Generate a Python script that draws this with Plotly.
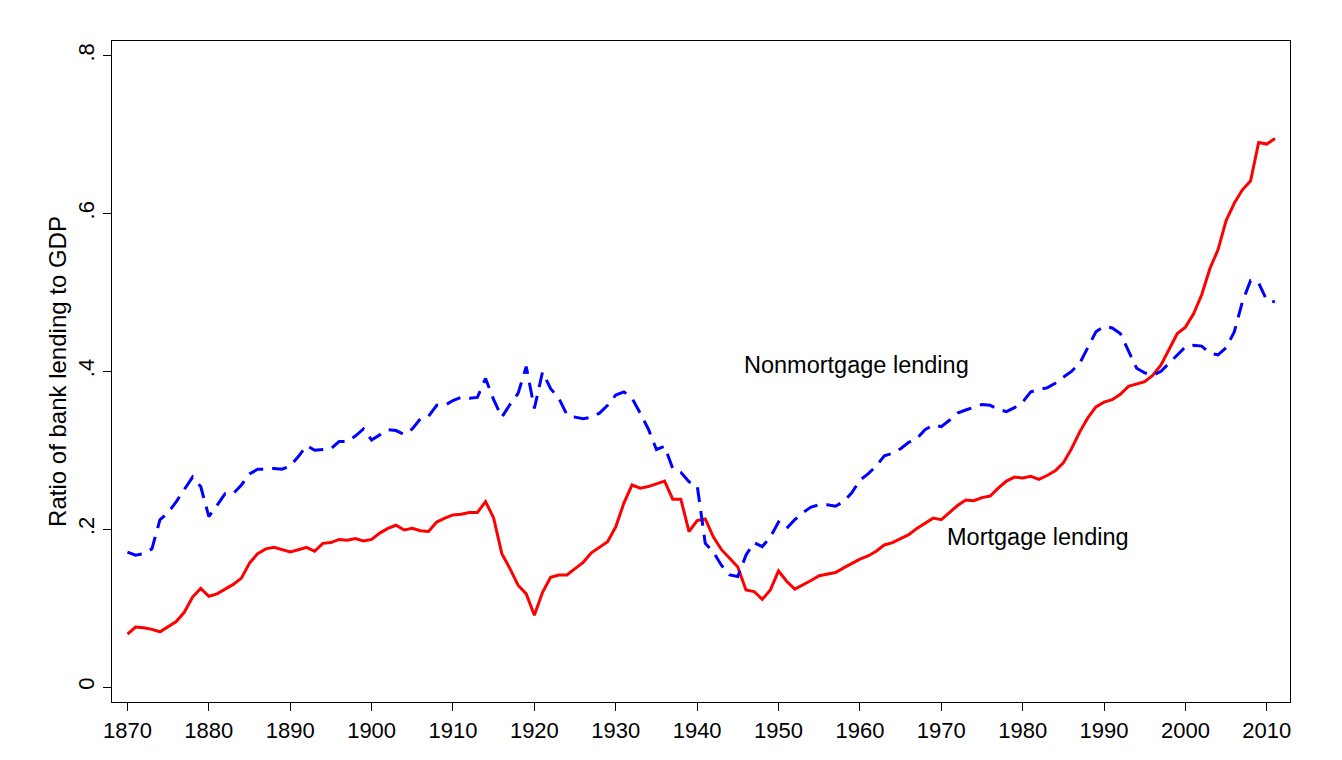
import plotly.graph_objects as go

years = list(range(1870, 2012))

mortgage = [
    0.067, 0.076, 0.075, 0.073, 0.070, 0.076, 0.083, 0.095, 0.114, 0.125,  # 1870s
    0.115, 0.118, 0.124, 0.130, 0.138, 0.157, 0.169, 0.175, 0.177, 0.174,  # 1880s
    0.171, 0.174, 0.177, 0.172, 0.182, 0.183, 0.187, 0.186, 0.188, 0.185,  # 1890s
    0.187, 0.195, 0.201, 0.205, 0.199, 0.201, 0.198, 0.197, 0.209, 0.214,  # 1900s
    0.218, 0.219, 0.221, 0.221, 0.235, 0.214, 0.169, 0.150, 0.129, 0.118,  # 1910s
    0.091, 0.120, 0.139, 0.142, 0.142, 0.150, 0.158, 0.170, 0.177, 0.184,  # 1920s
    0.203, 0.233, 0.256, 0.252, 0.254, 0.257, 0.261, 0.238, 0.238, 0.197,  # 1930s
    0.211, 0.213, 0.190, 0.174, 0.163, 0.152, 0.123, 0.121, 0.111, 0.123,  # 1940s
    0.147, 0.134, 0.124, 0.129, 0.135, 0.141, 0.143, 0.145, 0.151, 0.157,  # 1950s
    0.162, 0.166, 0.172, 0.180, 0.183, 0.188, 0.193, 0.201, 0.208, 0.214,  # 1960s
    0.212, 0.221, 0.230, 0.237, 0.236, 0.240, 0.242, 0.252, 0.261, 0.266,  # 1970s
    0.265, 0.267, 0.263, 0.268, 0.274, 0.284, 0.302, 0.323, 0.341, 0.355,  # 1980s
    0.361, 0.364, 0.371, 0.381, 0.384, 0.387, 0.395, 0.408, 0.428, 0.448,  # 1990s
    0.456, 0.473, 0.497, 0.530, 0.554, 0.591, 0.613, 0.630, 0.641, 0.690,  # 2000s
    0.688, 0.695,                                                          # 2010s
]

nonmortgage = [
    0.171, 0.167, 0.169, 0.175, 0.212, 0.221, 0.235, 0.250, 0.266, 0.254,  # 1870s
    0.216, 0.230, 0.245, 0.245, 0.256, 0.270, 0.276, 0.276, 0.277, 0.276,  # 1880s
    0.280, 0.292, 0.306, 0.300, 0.301, 0.302, 0.311, 0.311, 0.318, 0.327,  # 1890s
    0.313, 0.320, 0.326, 0.325, 0.320, 0.327, 0.340, 0.343, 0.357, 0.357,  # 1900s
    0.363, 0.367, 0.366, 0.367, 0.391, 0.364, 0.342, 0.358, 0.372, 0.406,  # 1910s
    0.353, 0.399, 0.378, 0.366, 0.345, 0.342, 0.340, 0.342, 0.347, 0.357,  # 1920s
    0.370, 0.374, 0.366, 0.347, 0.327, 0.301, 0.305, 0.277, 0.272, 0.260,  # 1930s
    0.256, 0.182, 0.171, 0.154, 0.142, 0.140, 0.167, 0.183, 0.178, 0.190,  # 1940s
    0.209, 0.201, 0.212, 0.221, 0.228, 0.231, 0.231, 0.229, 0.235, 0.246,  # 1950s
    0.262, 0.270, 0.280, 0.293, 0.296, 0.302, 0.310, 0.315, 0.326, 0.332,  # 1960s
    0.330, 0.338, 0.347, 0.351, 0.355, 0.358, 0.357, 0.352, 0.349, 0.354,  # 1970s
    0.361, 0.374, 0.377, 0.379, 0.385, 0.393, 0.400, 0.410, 0.430, 0.450,  # 1980s
    0.457, 0.455, 0.448, 0.427, 0.404, 0.398, 0.395, 0.400, 0.410, 0.421,  # 1990s
    0.431, 0.433, 0.432, 0.423, 0.421, 0.430, 0.450, 0.488, 0.515, 0.512,  # 2000s
    0.490, 0.488,                                                          # 2010s
]

x_ticks = list(range(1870, 2011, 10))
y_ticks = [0, 0.2, 0.4, 0.6, 0.8]
y_tick_labels = ["0", ".2", ".4", ".6", ".8"]

FONT = "Liberation Sans, Arial, Helvetica, sans-serif"

fig = go.Figure()
fig.add_trace(go.Scatter(
    x=years, y=mortgage, mode="lines", name="Mortgage lending",
    line=dict(color="#FF0000", width=3),
))
fig.add_trace(go.Scatter(
    x=years, y=nonmortgage, mode="lines", name="Nonmortgage lending",
    line=dict(color="#0000FF", width=3, dash="15px,9px"),
))

fig.add_annotation(x=1945.5, y=0.408, text="Nonmortgage lending", showarrow=False,
                   xanchor="left", yanchor="middle", font=dict(size=23.5, color="black", family=FONT))
fig.add_annotation(x=1970.45, y=0.19, text="Mortgage lending", showarrow=False,
                   xanchor="left", yanchor="middle", font=dict(size=23.5, color="black", family=FONT))

fig.update_layout(
    width=1342, height=760,
    margin=dict(l=104, r=60, t=33, b=66),
    paper_bgcolor="white", plot_bgcolor="white",
    showlegend=False,
    font=dict(family=FONT, color="black"),
)
fig.update_xaxes(
    range=[1868.1, 2012.85],
    tickvals=x_ticks,
    showgrid=False, zeroline=False,
    showline=True, linecolor="black", linewidth=1.3, mirror=True,
    ticks="outside", ticklen=8, tickwidth=1.3, tickcolor="black",
    tickfont=dict(size=22, family=FONT, color="black"),
)
fig.update_yaxes(
    range=[-0.019, 0.8186],
    tickvals=y_ticks, ticktext=y_tick_labels,
    tickangle=-90,
    showgrid=False, zeroline=False,
    showline=True, linecolor="black", linewidth=1.3, mirror=True,
    ticks="outside", ticklen=8, tickwidth=1.3, tickcolor="black",
    tickfont=dict(size=22, family=FONT, color="black"),
    title=dict(text="Ratio of bank lending to GDP", font=dict(size=24, family=FONT, color="black"), standoff=0),
)

fig.write_html("out.html")
